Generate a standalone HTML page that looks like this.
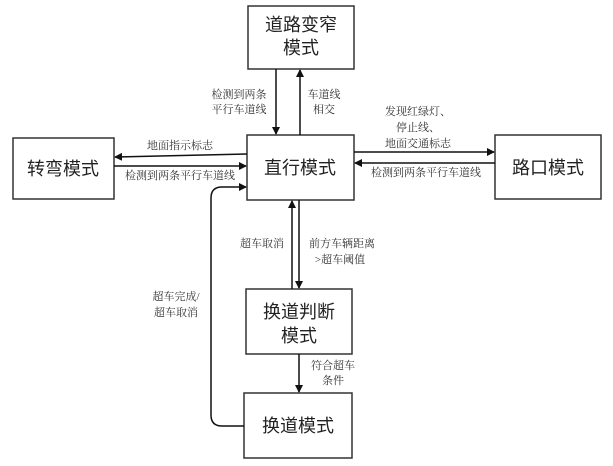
<!DOCTYPE html>
<html><head><meta charset="utf-8"><style>
html,body{margin:0;padding:0;background:#fff;}
svg{display:block;}
text{font-family:"Liberation Serif","Noto Serif CJK SC","Noto Sans CJK SC",serif;fill:#333;}
.b{font-size:18px;font-family:"Liberation Sans","Noto Sans CJK SC",sans-serif;fill:#222;}
.s{font-size:11px;}
</style></head><body>
<svg width="613" height="466" viewBox="0 0 613 466" xmlns="http://www.w3.org/2000/svg">
<defs><marker id="a" markerWidth="8" markerHeight="8" refX="7" refY="4" orient="auto" markerUnits="userSpaceOnUse"><path d="M0,0 L8,4 L0,8 z" fill="#111"/></marker></defs>
<g fill="none" stroke="#333" stroke-width="1.5">
<rect x="248" y="6" width="106" height="63"/>
<rect x="247" y="135" width="107" height="65"/>
<rect x="13" y="138" width="101" height="61"/>
<rect x="495" y="135" width="106" height="64"/>
<rect x="246" y="289" width="106" height="65"/>
<rect x="244" y="393" width="108" height="65"/>
</g>
<g stroke="#111" stroke-width="1.5" fill="none" marker-end="url(#a)">
<line x1="276" y1="69" x2="276" y2="134"/>
<line x1="300" y1="135" x2="300" y2="70"/>
<line x1="247" y1="154" x2="115" y2="157"/>
<line x1="114" y1="166" x2="246" y2="166"/>
<line x1="354" y1="152" x2="494" y2="152"/>
<line x1="495" y1="163" x2="355" y2="163"/>
<line x1="292" y1="289" x2="292" y2="201"/>
<line x1="299" y1="200" x2="299" y2="288"/>
<line x1="299" y1="354" x2="299" y2="392"/>
<path d="M244,426 L222,426 Q211,426 211,415 L211,198 Q211,187 222,187 L246,187"/>
</g>
<text class="b" x="301" y="31" text-anchor="middle">道路变窄</text>
<text class="b" x="301" y="54" text-anchor="middle">模式</text>
<text class="b" x="300" y="174" text-anchor="middle">直行模式</text>
<text class="b" x="63" y="175" text-anchor="middle">转弯模式</text>
<text class="b" x="548" y="174" text-anchor="middle">路口模式</text>
<text class="b" x="299" y="318" text-anchor="middle">换道判断</text>
<text class="b" x="299" y="342" text-anchor="middle">模式</text>
<text class="b" x="298" y="432" text-anchor="middle">换道模式</text>
<g class="s">
<text x="239" y="98" text-anchor="middle">检测到两条</text>
<text x="239" y="113" text-anchor="middle">平行车道线</text>
<text x="324" y="98" text-anchor="middle">车道线</text>
<text x="324" y="113" text-anchor="middle">相交</text>
<text x="418" y="115" text-anchor="middle">发现红绿灯、</text>
<text x="418" y="131" text-anchor="middle">停止线、</text>
<text x="418" y="147" text-anchor="middle">地面交通标志</text>
<text x="180" y="149" text-anchor="middle">地面指示标志</text>
<text x="180" y="179" text-anchor="middle">检测到两条平行车道线</text>
<text x="426" y="176" text-anchor="middle">检测到两条平行车道线</text>
<text x="262" y="247" text-anchor="middle">超车取消</text>
<text x="342" y="247" text-anchor="middle">前方车辆距离</text>
<text x="340" y="263" text-anchor="middle">&gt;超车阈值</text>
<text x="176" y="300" text-anchor="middle">超车完成/</text>
<text x="176" y="316" text-anchor="middle">超车取消</text>
<text x="333" y="369" text-anchor="middle">符合超车</text>
<text x="333" y="384" text-anchor="middle">条件</text>
</g>
</svg>
</body></html>
